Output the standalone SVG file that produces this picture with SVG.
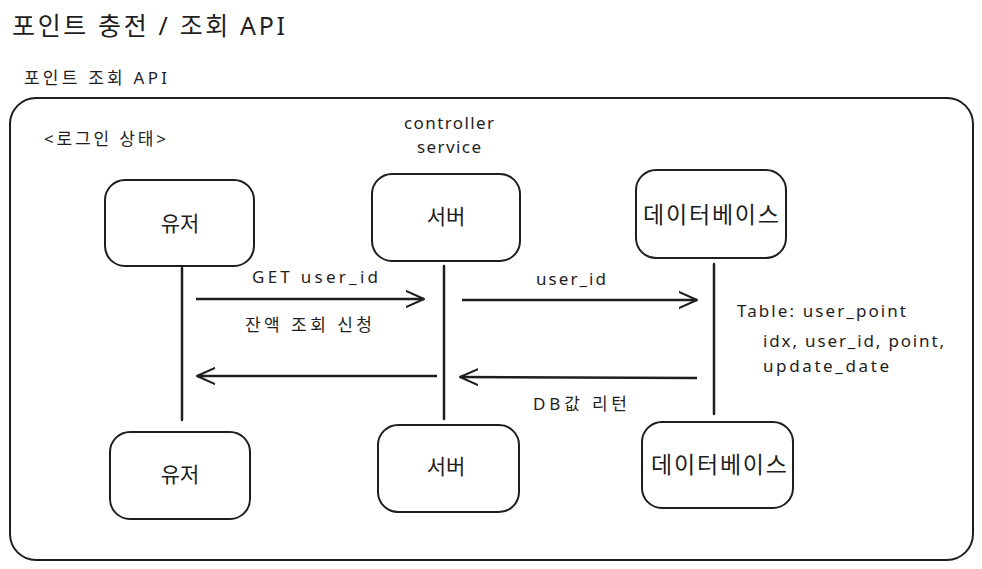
<svg xmlns="http://www.w3.org/2000/svg" width="982" height="569" viewBox="0 0 982 569">
<defs>
<marker id="ah" viewBox="0 0 20 20" refX="18" refY="10" markerWidth="20" markerHeight="20" markerUnits="userSpaceOnUse" orient="auto">
<path d="M0,2 L18,10 L0,18" fill="none" stroke="#1e1e1e" stroke-width="2" stroke-linecap="round" stroke-linejoin="round"/>
</marker>
</defs>
<style>
text{font-family:"Noto Sans","Noto Sans CJK KR",sans-serif;fill:#1e1e1e}
.node{fill:#fff;stroke:#1e1e1e;stroke-width:2}
.lbl{font-size:21px;text-anchor:middle;dominant-baseline:central}
.db{font-size:23px}
.sm{font-size:17px}
.line{stroke:#1e1e1e;stroke-width:2.5;fill:none;stroke-linecap:round}
.arr{stroke:#1e1e1e;stroke-width:2.5;fill:none;marker-end:url(#ah)}
</style>
<rect width="982" height="569" fill="#fff"/>
<text x="12" y="35" font-size="25" textLength="273" lengthAdjust="spacing">포인트 충전 / 조회 API</text>
<text x="24" y="84" class="sm" textLength="143" lengthAdjust="spacing">포인트 조회 API</text>
<rect x="10" y="98" width="963" height="462" rx="26" fill="none" stroke="#1e1e1e" stroke-width="2"/>
<text x="44" y="145" class="sm" textLength="122" lengthAdjust="spacing">&lt;로그인 상태&gt;</text>
<text x="404" y="129" class="sm" textLength="90" lengthAdjust="spacing">controller</text>
<text x="417" y="153" class="sm" textLength="64" lengthAdjust="spacing">service</text>

<g id="user-top"><rect class="node" x="105" y="180" width="149" height="86" rx="20"/><text class="lbl" x="180" y="223">유저</text></g>
<g id="server-top"><rect class="node" x="372" y="174" width="148" height="87" rx="20"/><text class="lbl" x="446" y="216">서버</text></g>
<g id="db-top"><rect class="node" x="636" y="170" width="150" height="88" rx="20"/><text class="lbl db" x="711" y="214" textLength="136" lengthAdjust="spacing">데이터베이스</text></g>
<g id="user-bottom"><rect class="node" x="110" y="432" width="140" height="87" rx="20"/><text class="lbl" x="180" y="474">유저</text></g>
<g id="server-bottom"><rect class="node" x="378" y="425" width="141" height="87" rx="20"/><text class="lbl" x="446" y="466">서버</text></g>
<g id="db-bottom"><rect class="node" x="642" y="422" width="151" height="86" rx="20"/><text class="lbl db" x="719" y="464" textLength="136" lengthAdjust="spacing">데이터베이스</text></g>

<g id="connectors">
<line class="line" x1="182" y1="268" x2="182" y2="420"/>
<line class="line" x1="444" y1="266" x2="444" y2="419"/>
<line class="line" x1="714" y1="264" x2="714" y2="414"/>
<line class="arr" x1="196" y1="299" x2="424" y2="299"/>
<line class="arr" x1="462" y1="300" x2="697" y2="300"/>
<line class="arr" x1="697" y1="378" x2="460" y2="377"/>
<line class="arr" x1="437" y1="376" x2="197" y2="376"/>
</g>
<text x="252" y="283" class="sm" textLength="126" lengthAdjust="spacing">GET user_id</text>
<text x="245" y="331" class="sm" textLength="127" lengthAdjust="spacing">잔액 조회 신청</text>
<text x="536" y="285" class="sm" textLength="70" lengthAdjust="spacing">user_id</text>
<text x="533" y="410" class="sm" textLength="94" lengthAdjust="spacing">DB값 리턴</text>
<text x="737" y="317" class="sm" textLength="169" lengthAdjust="spacing">Table: user_point</text>
<text x="763" y="347" class="sm" textLength="181" lengthAdjust="spacing">idx, user_id, point,</text>
<text x="763" y="372" class="sm" textLength="126" lengthAdjust="spacing">update_date</text>
</svg>
